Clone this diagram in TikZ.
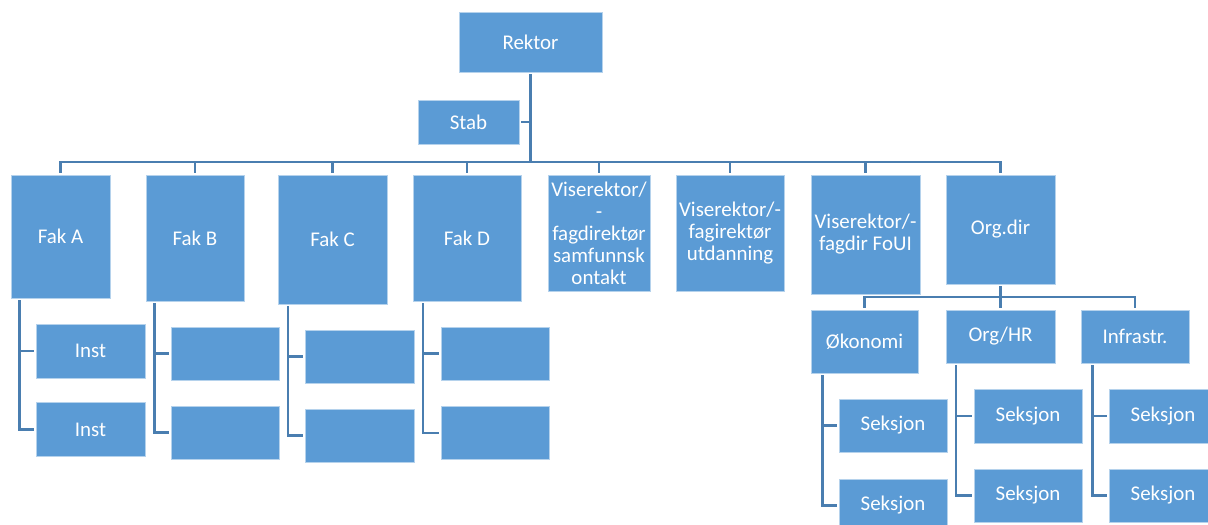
\documentclass[tikz,border=0pt]{standalone}
\usepackage{fontspec}
\setmainfont{Carlito}
\definecolor{boxblue}{HTML}{5B9BD5}
\definecolor{linkblue}{HTML}{4A7EB0}
\tikzset{
  box/.style={draw=white!55!boxblue, line width=0.6pt, fill=boxblue, text=white,
    align=center, inner sep=0pt, outer sep=1.6pt,
    font=\fontsize{15.7}{16.5}\selectfont},
  sz/.style 2 args={minimum width=#1*0.75pt, minimum height=#2*0.75pt},
  link/.style={draw=linkblue, line width=2pt}
}
\begin{document}
\begin{tikzpicture}[x=0.75pt,y=-0.75pt]
\clip (0,0) rectangle (1208,525);
\useasboundingbox (0,0) rectangle (1208,525);

\node[box, sz={143}{60}] (rektor) at (530.5,42) {Rektor};
\node[box, sz={101}{44}] (stab) at (468.5,122) {Stab};

\node[box, sz={99}{123}] (fa) at (60.5,236.5) {Fak A};
\node[box, sz={98}{126}] (fb) at (195,238) {Fak B};
\node[box, sz={109}{129}] (fc) at (332.5,239.5) {Fak C};
\node[box, sz={108}{126}] (fd) at (467,238) {Fak D};
\node[box, sz={102}{116}] (vr1) at (599,233) {Viserektor/\\-\\fagdirektør\\samfunnsk\\ontakt};
\node[box, sz={108}{116}] (vr2) at (730,233) {Viserektor/-\\fagirektør\\utdanning};
\node[box, sz={109}{119}] (vr3) at (865.5,234.5) {Viserektor/-\\fagdir FoUI};
\node[box, sz={109}{109}] (org) at (1000.5,229.5) {Org.dir};

\node[box, sz={109}{54}] (ia1) at (90.5,351) {Inst};
\node[box, sz={109}{54}] (ia2) at (90.5,429.5) {Inst};
\node[box, sz={108}{53}] (ib1) at (225,353.5) {};
\node[box, sz={108}{53}] (ib2) at (225,432.5) {};
\node[box, sz={109}{53}] (ic1) at (359.5,356.5) {};
\node[box, sz={109}{53}] (ic2) at (359.5,435.5) {};
\node[box, sz={108}{53}] (id1) at (495,353.5) {};
\node[box, sz={108}{53}] (id2) at (495,433) {};

\node[box, sz={107}{63}] (oko) at (864.5,341.5) {Økonomi};
\node[box, sz={109}{53}] (hr) at (1000.5,336.5) {Org/HR};
\node[box, sz={108}{53}] (infra) at (1135,336.5) {Infrastr.};

\node[box, sz={108}{53}] (s11) at (893,425.5) {Seksjon};
\node[box, sz={108}{53}] (s12) at (893,505.5) {Seksjon};
\node[box, sz={108}{54}] (s21) at (1028,416) {Seksjon};
\node[box, sz={108}{53}] (s22) at (1028,495.5) {Seksjon};
\node[box, sz={108}{54}] (s31) at (1163,416) {Seksjon};
\node[box, sz={108}{53}] (s32) at (1163,495.5) {Seksjon};

\coordinate (bus) at (530.5,162);
\coordinate (orgbus) at (1000.5,297);

\path[link] (rektor.south) -- (bus);
\path[link] (stab.east) -- (stab.east -| rektor.south);
\foreach \n in {fa,fb,fc,fd,vr1,vr2,vr3,org}
  \path[link] (\n.north) |- (bus);

\path[link] (org.south) -- (orgbus);
\foreach \n in {oko,hr,infra}
  \path[link] (\n.north) |- (orgbus);

\path[link] ([xshift=8]fa.south west) |- (ia1.west);
\path[link] ([xshift=8]fa.south west) |- (ia2.west);
\path[link] ([xshift=8]fb.south west) |- (ib1.west);
\path[link] ([xshift=8]fb.south west) |- (ib2.west);
\path[link] ([xshift=9]fc.south west) |- (ic1.west);
\path[link] ([xshift=9]fc.south west) |- (ic2.west);
\path[link] ([xshift=9]fd.south west) |- (id1.west);
\path[link] ([xshift=9]fd.south west) |- (id2.west);

\path[link] ([xshift=10]oko.south west) |- (s11.west);
\path[link] ([xshift=10]oko.south west) |- (s12.west);
\path[link] ([xshift=9]hr.south west) |- (s21.west);
\path[link] ([xshift=9]hr.south west) |- (s22.west);
\path[link] ([xshift=10]infra.south west) |- (s31.west);
\path[link] ([xshift=10]infra.south west) |- (s32.west);
\end{tikzpicture}
\end{document}
